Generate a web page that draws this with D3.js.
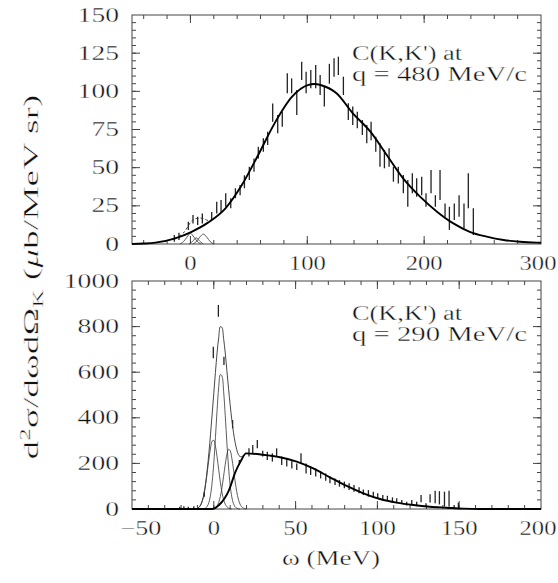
<!DOCTYPE html>
<html>
<head>
<meta charset="utf-8">
<script src="https://cdn.jsdelivr.net/npm/d3@7"></script>
<style>
  body { margin: 0; background: #fff; }
  /* the thin white stroke trims the stretched glyphs to the light look of the original */
  text { font-family: "Liberation Serif", "DejaVu Serif", serif; fill: #111; stroke: #fff; stroke-width: 0.35px; }
</style>
</head>
<body>
<svg id="chart" width="558" height="583"></svg>
<script>
////////////////////////////////////////////////////////////////////////
// Data. omega in MeV, cross section in ub/MeV sr.
// Error bars are [omega, low, high].

// upper panel, q = 480 MeV/c
let topBars = [
  [-13.8, 1.5, 5.9], [-9.8, 2.6, 7.4], [-1.8, 9.2, 14.6], [2.2, 13.5, 19],
  [6.2, 12.4, 17.9], [10.2, 13.5, 20], [18.2, 15.7, 21], [22.5, 20, 27.7],
  [26.2, 21, 28.8], [30.2, 24.4, 33.2], [34.5, 23.4, 29.9], [38.5, 30, 36.5],
  [42.5, 32, 38.6], [46.2, 36.5, 45], [50.4, 42, 50.6], [54.4, 47.4, 56],
  [58.1, 56, 63.7], [62.4, 60.5, 69.2], [66.1, 64.8, 73.6], [70.4, 80, 92],
  [74.7, 72.5, 84.5], [78.6, 76.8, 86.7], [82.9, 98.7, 111.8], [86.6, 98.7, 108.5],
  [91, 84.5, 100.9], [95.2, 107.4, 119.4], [99, 98.7, 112.9], [103, 102, 114],
  [107.2, 102, 117.2], [111, 97.6, 110.7], [114.6, 90, 103], [118.9, 105, 118],
  [122.9, 109.6, 121.6], [126.6, 110.7, 122.7], [130.9, 97.6, 109.6], [135.1, 81.2, 92.2],
  [138.9, 78, 90], [142.8, 75.8, 86.7], [147.1, 71.4, 81.2], [150.9, 66, 78],
  [154.6, 68, 80], [158.6, 60.5, 70.3], [162.2, 50.6, 66], [166, 49.6, 61.6],
  [170, 50.6, 62.7], [173.7, 40.8, 50.6], [177.9, 39.7, 50.6], [182.2, 33.2, 45.2],
  [186, 24.4, 42], [189.9, 33.2, 46.3], [193.6, 31, 43], [197.9, 32, 44],
  [201.6, 24.4, 33.2], [205.9, 33.2, 48.5], [209.6, 24.4, 32], [213.6, 28.8, 48.5],
  [217.9, 17.9, 26.6], [221.6, 9.2, 24.4], [225.8, 15.7, 26.6], [229.9, 17.9, 32],
  [234.1, 10.3, 26.6], [237.8, 23.4, 46.3], [242.1, 5.9, 23.4]
];
let topFit = [
  [-50, 0], [-40, 0.3], [-30, 0.9], [-13, 3.7], [1, 8], [15, 14], [30, 23.4],
  [44, 38.6], [58, 58.3], [72, 79], [87, 96.5], [101, 104.2], [106, 104.8],
  [112, 104], [125, 98.7], [139, 85.6], [154, 73.6], [168, 58.3], [182, 43],
  [196.5, 31], [211, 21.2], [225, 13.5], [239, 8], [253.5, 4.8], [268, 2.6],
  [282, 1.5], [296, 0.9], [300, 0.8]
];
let topSum = [
  [-14, 3.7], [-10, 5], [-6, 7.2], [-3, 10.5], [0, 14], [3, 16.3], [6, 16.8],
  [9, 17], [12, 16.4], [15, 15.4], [18, 15.8]
];
let topPeak1 = [[-9, 0], [-6, 1.5], [-3, 4.5], [0, 7], [3, 4.5], [6, 1.5], [9, 0]];
let topPeak2 = [[-1, 0], [2, 1.8], [5, 4], [8, 1.8], [11, 0]];
let topPeak3 = [[2, 0], [5, 1.5], [8, 4.5], [11, 6.5], [14, 4.5], [17, 1.5], [20, 0]];

// lower panel, q = 290 MeV/c
let botBars = [
  [-20.8, 0, 10], [-18.3, 0, 12], [-15.6, 0, 10], [-12.2, 2, 12], [-5.8, 54, 76],
  [-0.3, 661, 712], [2.8, 843, 895], [6.2, 632, 668], [11.5, 354, 390], [15.6, 193, 215],
  [21.5, 230, 266], [23.8, 244, 281], [26.6, 266, 303], [29.9, 230, 256], [32.7, 215, 251],
  [35.8, 208, 244], [38.4, 230, 266], [41.5, 193, 230], [44.6, 186, 222], [47.7, 178, 215],
  [50.7, 171, 200], [53.3, 200, 244], [56.4, 156, 200], [59.2, 149, 186], [62.3, 142, 178],
  [65.3, 134, 164], [68.4, 124, 156], [71, 113, 142], [74.1, 105, 134], [76.8, 98, 127],
  [79.8, 91, 120], [82.7, 83, 113], [85.7, 76, 105], [88.8, 69, 95], [91.4, 61, 86],
  [94.5, 54, 83], [97.5, 51, 76], [100.2, 47, 69], [103.3, 39, 61], [106.1, 37, 58],
  [109.2, 29, 51], [111.8, 25, 47], [114.9, 22, 39], [117.9, 15, 32], [121, 18, 40],
  [124, 12, 32], [126.7, 30, 61], [129.7, 8, 25], [132.2, 28, 65], [135.3, 25, 80],
  [137.9, 20, 78], [141, 10, 76], [143.8, 10, 80], [146.9, 3, 18], [149.5, 0, 28]
];
let botFit = [
  [-50, 0], [-1, 0], [3.2, 17.5], [9.3, 83], [13.3, 164], [16.5, 210], [19.7, 244],
  [30, 238], [40.5, 227], [50.7, 208], [60.8, 178], [71, 139], [81.2, 101],
  [91.4, 69], [101.6, 44], [111.8, 28], [122, 17.5], [132.2, 10], [142.3, 5.7],
  [152.5, 1.5], [162.7, 0], [200, 0]
];
let botSum = [
  [-13, 0], [-11, 1], [-10, 3], [-9, 8], [-8, 18], [-7, 37], [-6, 66], [-5, 112],
  [-4, 173], [-3, 246], [-2, 328], [-1, 416], [0, 508], [1, 599], [2, 685],
  [3, 752], [4, 800], [5, 796], [6, 748], [7, 684], [8, 607], [9, 530], [10, 457],
  [11, 392], [12, 337], [13, 293], [14, 261], [15, 239], [16, 230], [17, 230],
  [18, 234], [19.7, 244]
];
let botPeakL = [
  [-12, 0], [-11, 1], [-10, 3], [-9, 8], [-8, 18], [-7, 36], [-6, 65], [-5, 108],
  [-4, 161], [-3, 218], [-2, 267], [-1, 298], [0, 301], [1, 275], [2, 229],
  [3, 172], [4, 118], [5, 73], [6, 41], [7, 21], [8, 10], [9, 4], [10, 1.5], [11, 0]
];
let botPeakC = [
  [-7, 0], [-6, 1], [-5, 4], [-4, 12], [-3, 28], [-2, 61], [-1, 118], [0, 203],
  [1, 313], [2, 432], [3, 534], [4, 590], [5, 583], [6, 516], [7, 409], [8, 290],
  [9, 184], [10, 104], [11, 53], [12, 24], [13, 10], [14, 4], [15, 1], [16, 0]
];
let botPeakR = [
  [-1, 0], [0, 2], [1, 6], [2, 14], [3, 29], [4, 55], [5, 94], [6, 144], [7, 196],
  [8, 239], [9, 262], [10, 256], [11, 224], [12, 175], [13, 123], [14, 77],
  [15, 43], [16, 22], [17, 10], [18, 4], [19, 1], [20, 0]
];

// tick labels
let topXLabels = [0, 100, 200, 300];
let topYLabels = [0, 25, 50, 75, 100, 125, 150];
let botXLabels = [-50, 0, 50, 100, 150, 200];
let botYLabels = [0, 200, 400, 600, 800, 1000];

let topNote = ["C(K,K') at", "q = 480 MeV/c"];
let botNote = ["C(K,K') at", "q = 290 MeV/c"];

////////////////////////////////////////////////////////////////////////

let svg = d3.select("#chart");

function makePanel(cfg) {
  let x = d3.scaleLinear().domain(cfg.xDomain).range([132, 541]);
  let y = d3.scaleLinear().domain(cfg.yDomain).range([cfg.bottom, cfg.top]);
  let g = svg.append("g");

  // frame
  g.append("rect")
    .attr("x", 132).attr("y", cfg.top)
    .attr("width", 409).attr("height", cfg.bottom - cfg.top)
    .attr("fill", "none").attr("stroke", "#444").attr("stroke-width", 1);

  // inward ticks on all four sides
  let xt = cfg.xMinor.map(function(v) { return { v: v, len: 4 }; })
    .concat(cfg.xMajor.map(function(v) { return { v: v, len: 8 }; }));
  let yt = cfg.yMinor.map(function(v) { return { v: v, len: 4 }; })
    .concat(cfg.yMajor.map(function(v) { return { v: v, len: 8 }; }));

  let tg = g.append("g").attr("stroke", "#444").attr("stroke-width", 1);
  [cfg.bottom, cfg.top].forEach(function(edge, k) {
    let dir = k === 0 ? -1 : 1;
    tg.selectAll(null).data(xt).join("line")
      .attr("x1", function(d) { return x(d.v); })
      .attr("x2", function(d) { return x(d.v); })
      .attr("y1", edge)
      .attr("y2", function(d) { return edge + dir * d.len; });
  });
  [132, 541].forEach(function(edge, k) {
    let dir = k === 0 ? 1 : -1;
    tg.selectAll(null).data(yt).join("line")
      .attr("y1", function(d) { return y(d.v); })
      .attr("y2", function(d) { return y(d.v); })
      .attr("x1", edge)
      .attr("x2", function(d) { return edge + dir * d.len; });
  });

  // tick labels
  g.selectAll(null).data(cfg.xLabels).join("text")
    .attr("x", function(d) { return d < 0 ? x(d) + 9 : Math.min(x(d), 538); })
    .attr("y", cfg.bottom + 26)
    .attr("text-anchor", "middle")
    .attr("font-size", 20)
    .attr("textLength", function(d) { return String(d).length * 12.3 + (d < 0 ? 4 : 0); })
    .attr("lengthAdjust", "spacingAndGlyphs")
    .text(function(d) { return d < 0 ? "\u2212" + Math.abs(d) : d; });

  g.selectAll(null).data(cfg.yLabels).join("text")
    .attr("x", 119)
    .attr("y", function(d) { return y(d) + 6.5; })
    .attr("text-anchor", "end")
    .attr("font-size", 20)
    .attr("textLength", function(d) { return String(d).length * 13.8; })
    .attr("lengthAdjust", "spacingAndGlyphs")
    .text(function(d) { return d; });

  // note
  g.selectAll(null).data(cfg.note).join("text")
    .attr("x", 352)
    .attr("y", function(d, i) { return cfg.noteY + i * 21; })
    .attr("font-size", 20)
    .attr("textLength", function(d, i) { return i === 0 ? 110 : 175; })
    .attr("lengthAdjust", "spacingAndGlyphs")
    .text(function(d) { return d; });

  // error bars
  g.append("g").selectAll("line").data(cfg.bars).join("line")
    .attr("x1", function(d) { return x(d[0]); })
    .attr("x2", function(d) { return x(d[0]); })
    .attr("y1", function(d) { return y(d[1]); })
    .attr("y2", function(d) { return y(d[2]); })
    .attr("stroke", "#222").attr("stroke-width", 1.3);

  let line = d3.line()
    .x(function(d) { return x(d[0]); })
    .y(function(d) { return y(d[1]); })
    .curve(d3.curveMonotoneX);
  let smooth = d3.line()
    .x(function(d) { return x(d[0]); })
    .y(function(d) { return y(d[1]); })
    .curve(d3.curveCatmullRom);

  cfg.peaks.forEach(function(p) {
    g.append("path").attr("d", smooth(p))
      .attr("fill", "none").attr("stroke", "#333").attr("stroke-width", 0.8);
  });
  g.append("path").attr("d", smooth(cfg.sum))
    .attr("fill", "none").attr("stroke", "#333").attr("stroke-width", 0.9)
    .attr("stroke-dasharray", cfg.sumDash);
  g.append("path").attr("d", line(cfg.fit))
    .attr("fill", "none").attr("stroke", "#000").attr("stroke-width", 1.9);
}

makePanel({
  xDomain: [-50, 300], yDomain: [0, 150], top: 15, bottom: 244,
  xMajor: [0, 100, 200], xMinor: d3.range(-40, 300, 20),
  yMajor: [25, 50, 75, 100, 125], yMinor: d3.range(5, 150, 5),
  xLabels: topXLabels, yLabels: topYLabels,
  note: topNote, noteY: 60,
  bars: topBars, fit: topFit, sum: topSum, sumDash: "3,2",
  peaks: [topPeak1, topPeak2, topPeak3]
});

makePanel({
  xDomain: [-50, 200], yDomain: [0, 1000], top: 281, bottom: 509,
  xMajor: [0, 50, 100, 150], xMinor: d3.range(-40, 200, 10),
  yMajor: [200, 400, 600, 800], yMinor: d3.range(40, 1000, 40),
  xLabels: botXLabels, yLabels: botYLabels,
  note: botNote, noteY: 320,
  bars: botBars, fit: botFit, sum: botSum, sumDash: null,
  peaks: [botPeakL, botPeakC, botPeakR]
});

// axis titles
svg.append("text")
  .attr("x", 331).attr("y", 565)
  .attr("text-anchor", "middle")
  .attr("font-size", 21)
  .attr("textLength", 98).attr("lengthAdjust", "spacingAndGlyphs")
  .text("\u03c9 (MeV)");

let yTitle = svg.append("text")
  .attr("transform", "translate(38,277) rotate(-90)")
  .attr("text-anchor", "middle")
  .attr("font-size", 21)
  .attr("textLength", 365).attr("lengthAdjust", "spacingAndGlyphs");
yTitle.append("tspan").text("d");
yTitle.append("tspan").attr("font-size", 14).attr("dy", -8).text("2");
yTitle.append("tspan").attr("dy", 8).text("\u03c3/d\u03c9d\u03a9");
yTitle.append("tspan").attr("font-size", 14).attr("dy", 5).text("K");
yTitle.append("tspan").attr("dy", -5).text(" (");
yTitle.append("tspan").attr("font-style", "italic").text("\u03bc");
yTitle.append("tspan").text("b/MeV sr)");
</script>
</body>
</html>
